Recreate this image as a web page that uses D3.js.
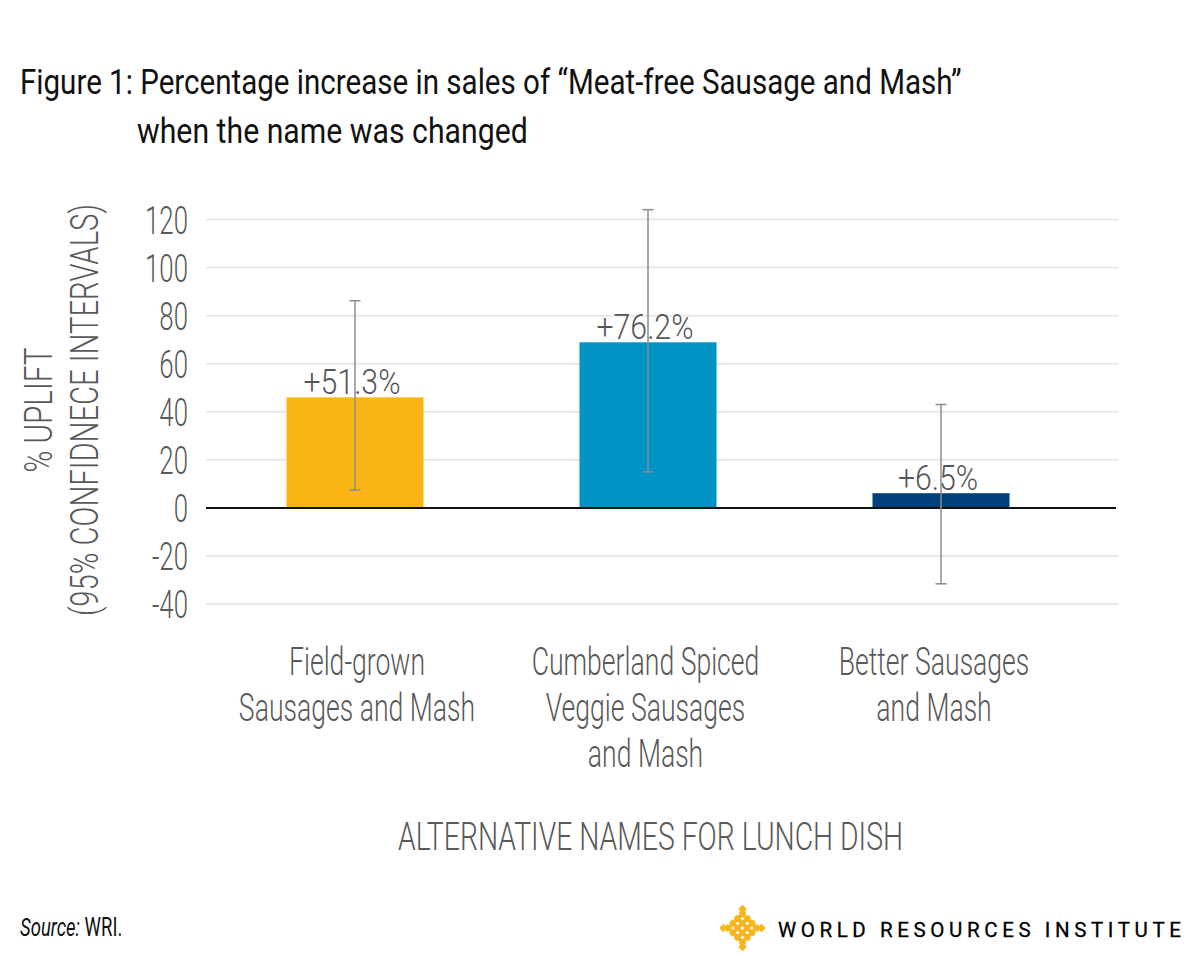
<!DOCTYPE html>
<html>
<head>
<meta charset="utf-8">
<script src="https://cdn.jsdelivr.net/npm/d3@7/dist/d3.min.js"></script>
<style>
  html, body { margin: 0; padding: 0; background: #ffffff; }
  svg { display: block; }
  text { font-family: Roboto, "Liberation Sans", sans-serif; }
</style>
</head>
<body>
<svg id="chart" width="1201" height="954"></svg>
<script>
// ---- data ----
const categories = ["Field-grown", "Cumberland Spiced", "Better Sausages"];
const categoryLines = [
  ["Field-grown", "Sausages and Mash"],
  ["Cumberland Spiced", "Veggie Sausages", "and Mash"],
  ["Better Sausages", "and Mash"]
];
const barValues = [46.0, 68.9, 6.1];
const barLabels = ["+51.3%", "+76.2%", "+6.5%"];
const ciLow = [7.4, 15.0, -31.6];
const ciHigh = [86.2, 124.1, 43.0];
const barColors = ["#FBB615", "#0093C6", "#003F7A"];
const yTicks = [-40, -20, 0, 20, 40, 60, 80, 100, 120];
const titleLines = ["Figure 1: Percentage increase in sales of \u201CMeat-free Sausage and Mash\u201D", "when the name was changed"];
const yTitleLines = ["% UPLIFT", "(95% CONFIDNECE INTERVALS)"];
const xTitle = "ALTERNATIVE NAMES FOR LUNCH DISH";

// ---- layout ----
const svg = d3.select("#chart");
const SX = 0.68;           // horizontal condensing factor
const gray = "#595959";

const y = d3.scaleLinear().domain([-40, 120]).range([604, 219.5]);
const x = d3.scaleBand().domain(categories).range([208.5, 1087.5])
  .paddingInner(0.5324).paddingOuter(0.2662);
const labelX = d3.scalePoint().domain(categories).range([357, 934]);
const gridX0 = 206, gridX1 = 1118;

function ctext(parent, tx, ty, str, o) {
  o = o || {};
  const sx = o.sx || SX;
  const rot = o.rotate ? ` rotate(${o.rotate})` : "";
  return parent.append("text")
    .attr("transform", `translate(${tx},${ty})${rot} scale(${sx},1)`)
    .attr("text-anchor", o.anchor || "start")
    .attr("font-size", o.size || 36)
    .attr("font-weight", o.weight || 300)
    .attr("font-style", o.style || "normal")
    .attr("fill", o.fill || gray)
    .text(str);
}

// Title
ctext(svg, 20, 94, titleLines[0], {size: 36, weight: 400, fill: "#111", sx: 0.821});
ctext(svg, 137, 143, titleLines[1], {size: 36, weight: 400, fill: "#111", sx: 0.84});

// Gridlines
svg.append("g").selectAll("line").data(yTicks.filter(d => d !== 0)).join("line")
  .attr("x1", gridX0).attr("x2", gridX1)
  .attr("y1", d => y(d)).attr("y2", d => y(d))
  .attr("stroke", "#e8e8e8").attr("stroke-width", 2);

// Y axis labels
const yAxis = d3.axisLeft(y).tickValues(yTicks).tickFormat(d => String(d)).tickSize(0).tickPadding(0);
const yg = svg.append("g").attr("transform", `translate(${gridX0},0)`).call(yAxis);
yg.select(".domain").remove();
yg.selectAll("text")
  .attr("x", 0).attr("dy", "0.36em")
  .attr("transform", `translate(-18,0) scale(${SX},1)`)
  .attr("font-family", "Roboto, sans-serif")
  .attr("font-size", 38).attr("font-weight", 300)
  .attr("fill", gray);

// Bars
svg.append("g").selectAll("rect").data(categories).join("rect")
  .attr("x", d => x(d))
  .attr("width", x.bandwidth())
  .attr("y", (d, i) => y(Math.max(0, barValues[i])))
  .attr("height", (d, i) => Math.abs(y(barValues[i]) - y(0)))
  .attr("fill", (d, i) => barColors[i]);

// Zero line
svg.append("line")
  .attr("x1", gridX0).attr("x2", 1116)
  .attr("y1", y(0)).attr("y2", y(0))
  .attr("stroke", "#111").attr("stroke-width", 2);

// Error bars
const eg = svg.append("g").attr("stroke", "#8c8c8c").attr("stroke-width", 1.5);
categories.forEach((c, i) => {
  const cx = x(c) + x.bandwidth() / 2;
  eg.append("line").attr("x1", cx).attr("x2", cx).attr("y1", y(ciLow[i])).attr("y2", y(ciHigh[i]));
  eg.append("line").attr("x1", cx - 5.5).attr("x2", cx + 5.5).attr("y1", y(ciLow[i])).attr("y2", y(ciLow[i]));
  eg.append("line").attr("x1", cx - 5.5).attr("x2", cx + 5.5).attr("y1", y(ciHigh[i])).attr("y2", y(ciHigh[i]));
});

// Data labels
categories.forEach((c, i) => {
  const cx = x(c) + x.bandwidth() / 2 - 3;
  ctext(svg, cx, y(barValues[i]) - 3, barLabels[i], {anchor: "middle", size: 36, fill: "#555", sx: 0.84});
});

// Category labels
categories.forEach((c, i) => {
  categoryLines[i].forEach((ln, j) => {
    ctext(svg, labelX(c), 675 + j * 46, ln, {anchor: "middle", size: 38, sx: 0.70});
  });
});

// X title
ctext(svg, 650.5, 850, xTitle, {anchor: "middle", size: 38, sx: 0.746});

// Y title
ctext(svg, 52, 410, yTitleLines[0], {anchor: "middle", size: 38, rotate: -90, sx: 0.78});
ctext(svg, 98, 410, yTitleLines[1], {anchor: "middle", size: 38, rotate: -90, sx: 0.77});

// Source
const src = svg.append("text")
  .attr("transform", `translate(20,936) scale(0.74,1)`)
  .attr("font-size", 25).attr("fill", "#111");
src.append("tspan").attr("font-style", "italic").text("Source:");
src.append("tspan").text(" WRI.");

// Logo icon (woven lattice)
const gold = "#F7B51E";
const logo = svg.append("g").attr("transform", "translate(742.5,928) rotate(45)");
const offs = [-10, -3.4, 3.4, 10];
offs.forEach(o => {
  logo.append("line").attr("x1", -13.5).attr("x2", 13.5).attr("y1", o).attr("y2", o)
    .attr("stroke", gold).attr("stroke-width", 4);
  logo.append("line").attr("y1", -13.5).attr("y2", 13.5).attr("x1", o).attr("x2", o)
    .attr("stroke", gold).attr("stroke-width", 4);
});
[[-13.5,-13.5],[13.5,-13.5],[-13.5,13.5],[13.5,13.5]].forEach(p => {
  logo.append("rect").attr("x", p[0] - 3).attr("y", p[1] - 3).attr("width", 6).attr("height", 6)
    .attr("fill", gold);
});

// Logo wordmark
svg.append("text")
  .attr("x", 778).attr("y", 937)
  .attr("font-family", "'Liberation Serif', 'DejaVu Serif', serif")
  .attr("font-size", 20.5)
  .attr("letter-spacing", 4.6)
  .attr("fill", "#000")
  .attr("stroke", "#000").attr("stroke-width", 0.3)
  .text("WORLD RESOURCES INSTITUTE");
</script>
</body>
</html>
